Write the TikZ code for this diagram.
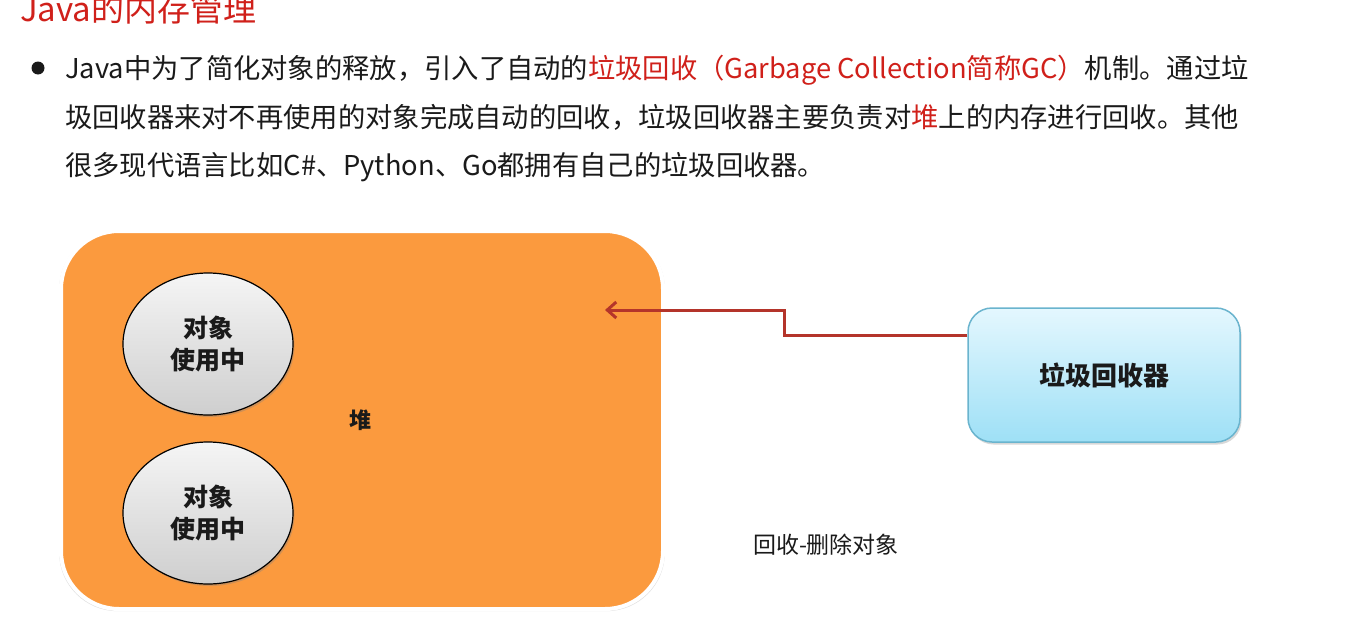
\documentclass[tikz,border=0pt]{standalone}
\usepackage{fontspec}
\setmainfont{Noto Sans CJK SC}
\usetikzlibrary{shapes.geometric,arrows.meta,shadows}
\definecolor{heaporange}{HTML}{FB9A3E}
\definecolor{titlered}{HTML}{D0201A}
\definecolor{txt}{HTML}{1A1A1A}
\definecolor{arrowred}{HTML}{B4342A}
\definecolor{gctop}{HTML}{E4F7FE}
\definecolor{gcbot}{HTML}{9EE0F6}
\definecolor{gcline}{HTML}{6AB4CE}
\tikzset{
  bodytext/.style={anchor=base west, inner sep=0pt, text=txt, font=\fontsize{27.3}{30}\selectfont},
  objnode/.style={ellipse, draw=black, line width=1.2pt, minimum width=170pt, minimum height=142pt,
    top color=gray!8, bottom color=gray!38, font=\bfseries\fontsize{25}{31}\selectfont, align=center, text=txt,
    drop shadow={opacity=0.35, shadow xshift=1.5pt, shadow yshift=-2pt}},
  gcbox/.style={rectangle, rounded corners=24pt, draw=gcline, line width=1.5pt, minimum width=272pt, minimum height=134pt,
    top color=gctop, bottom color=gcbot, font=\bfseries\fontsize{26}{30}\selectfont, text=txt,
    drop shadow={opacity=0.3, shadow xshift=1.5pt, shadow yshift=-2.5pt}},
  gcarrow/.style={draw=arrowred, line width=3pt, -{Straight Barb[length=9pt, width=16pt, line width=3pt]}},
}
\begin{document}
\begin{tikzpicture}[x=1pt, y=-1pt]
\useasboundingbox (0,0) rectangle (1345,640);
\fill[white] (0,0) rectangle (1345,640);
% title
\node[anchor=base west, inner sep=0pt, text=titlered, font=\fontsize{33}{36}\selectfont] (title) at (20,21) {Java的内存管理};
% bullet text
\fill[txt] (38,68) circle (6.5pt);
\node[bodytext] (l1) at (65,78) {Java中为了简化对象的释放，引入了自动的\textcolor{titlered}{垃圾回收（Garbage Collection简称GC）}机制。通过垃};
\node[bodytext] (l2) at (65,127) {圾回收器来对不再使用的对象完成自动的回收，垃圾回收器主要负责对\textcolor{titlered}{堆}上的内存进行回收。其他};
\node[bodytext] (l3) at (65,175) {很多现代语言比如C\#、Python、Go都拥有自己的垃圾回收器。};
% heap
\node[rectangle, rounded corners=58pt, fill=heaporange, draw=white, line width=4pt,
  minimum width=602pt, minimum height=378pt,
  drop shadow={opacity=0.25, shadow xshift=0pt, shadow yshift=-1pt, shadow scale=1.006}] (heap) at (362,420) {};
\node[font=\bfseries\fontsize{22}{26}\selectfont, text=txt] (heaplabel) at (360,420) {堆};
% objects
\node[objnode] (obj1) at (208,344) {对象\\[1pt]使用中};
\node[objnode] (obj2) at (208,513) {对象\\[1pt]使用中};
% GC
\node[gcbox] (gc) at (1104,375) {垃圾回收器};
\coordinate (tgt) at (605,310);
\coordinate (bend1) at (784,335);
\coordinate (bend2) at (784,310);
\draw[gcarrow] ([yshift=40pt]gc.west) -- (bend1) -- (bend2) -- (tgt);
% label
\node[font=\fontsize{23}{26}\selectfont, text=txt] (lbl) at (826,545) {回收-删除对象};
\end{tikzpicture}
\end{document}
